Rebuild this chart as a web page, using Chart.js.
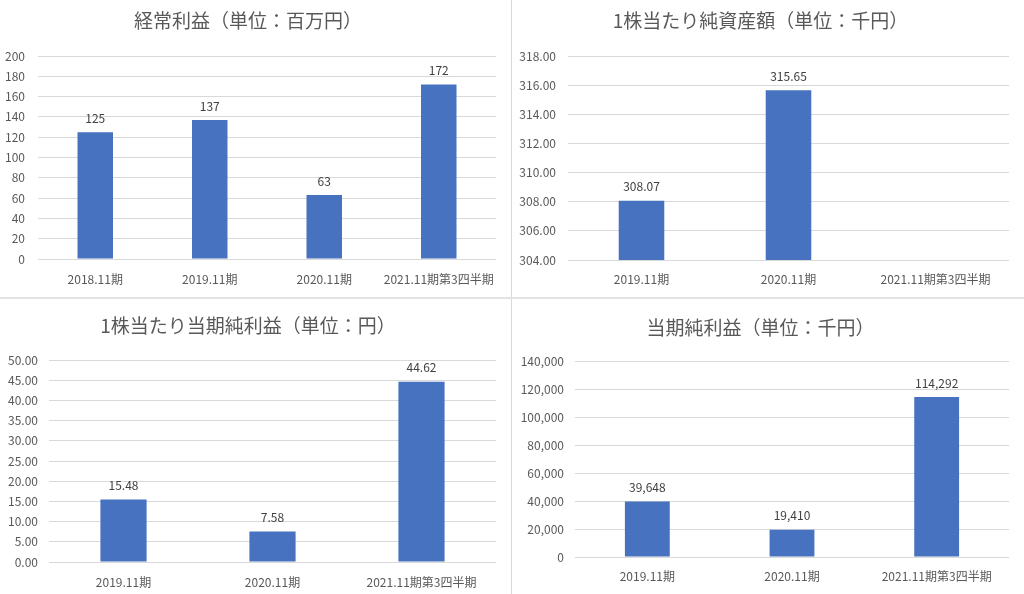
<!DOCTYPE html>
<html>
<head>
<meta charset="utf-8">
<script src="https://cdn.jsdelivr.net/npm/chart.js@4.4.0/dist/chart.umd.min.js"></script>
<style>
  html, body { margin: 0; padding: 0; background: #fff; }
  body { width: 1024px; height: 594px; position: relative; overflow: hidden; }
  .box { position: absolute; }
  .box canvas { display: block; }
  .vline { position: absolute; left: 511px; top: 0; width: 1px; height: 594px; background: #d9d9d9; }
  .hline { position: absolute; left: 0; top: 297px; width: 1024px; height: 2px; background: #e2e2e2; }
</style>
</head>
<body>
<div class="box" style="left:0;top:0;"><canvas id="c1" width="511" height="297"></canvas></div>
<div class="box" style="left:512px;top:0;"><canvas id="c2" width="512" height="297"></canvas></div>
<div class="box" style="left:0;top:299px;"><canvas id="c3" width="511" height="295"></canvas></div>
<div class="box" style="left:512px;top:299px;"><canvas id="c4" width="512" height="295"></canvas></div>
<div class="vline"></div>
<div class="hline"></div>

<script>
// data
const ordinaryLabels = ['2018.11期', '2019.11期', '2020.11期', '2021.11期第3四半期'];
const ordinaryValues = [125, 137, 63, 172];

const bpsLabels = ['2019.11期', '2020.11期', '2021.11期第3四半期'];
const bpsValues = [308.07, 315.65, null];

const epsLabels = ['2019.11期', '2020.11期', '2021.11期第3四半期'];
const epsValues = [15.48, 7.58, 44.62];

const netLabels = ['2019.11期', '2020.11期', '2021.11期第3四半期'];
const netValues = [39648, 19410, 114292];

const FONT = '"Noto Sans CJK JP", "Noto Sans", sans-serif';
const BAR_COLOR = '#4672C0';

const fmtInt = v => Math.round(v).toString();
const fmt2 = v => Number(v).toFixed(2);
const fmtComma = v => Number(v).toLocaleString('en-US');

// draws the value above each bar
const valueLabels = {
  id: 'valueLabels',
  afterDatasetsDraw(chart, args, opts) {
    const ctx = chart.ctx;
    ctx.save();
    ctx.font = '12px ' + FONT;
    ctx.fillStyle = '#404040';
    ctx.textAlign = 'center';
    ctx.textBaseline = 'middle';
    chart.getDatasetMeta(0).data.forEach((bar, i) => {
      const v = chart.data.datasets[0].data[i];
      if (v === null || v === undefined) return;
      ctx.fillText(opts.format(v), bar.x, bar.y - 14);
    });
    ctx.restore();
  }
};

function makeChart(id, title, labels, values, o) {
  const canvas = document.getElementById(id);
  const h = canvas.height;
  return new Chart(canvas, {
    type: 'bar',
    data: {
      labels: labels,
      datasets: [{
        data: values,
        backgroundColor: BAR_COLOR,
        borderWidth: 0,
        barPercentage: 0.31,
        categoryPercentage: 1
      }]
    },
    plugins: [valueLabels],
    options: {
      responsive: false,
      animation: false,
      layout: { padding: { left: 0, right: o.right, top: 0, bottom: 0 } },
      plugins: {
        legend: { display: false },
        tooltip: { enabled: false },
        title: {
          display: true,
          text: title,
          color: '#595959',
          font: { family: FONT, size: 19, weight: 'normal', lineHeight: 1.2 },
          padding: { top: o.titleY - 11.4, bottom: o.top - o.titleY - 11.4 }
        },
        valueLabels: { format: o.format }
      },
      scales: {
        x: {
          grid: { display: false },
          border: { display: false },
          ticks: {
            color: '#595959',
            font: { family: FONT, size: 12 },
            padding: o.xPad,
            maxRotation: 0,
            autoSkip: false
          },
          afterFit(scale) { scale.height = h - o.bottom; }
        },
        y: {
          min: o.min,
          max: o.max,
          grid: { color: '#d9d9d9', lineWidth: 1, drawTicks: false },
          border: { display: false },
          ticks: {
            stepSize: o.step,
            color: '#595959',
            font: { family: FONT, size: 12 },
            padding: o.yPad,
            callback: v => o.format(v)
          },
          afterFit(scale) { scale.width = o.left; }
        }
      }
    }
  });
}

makeChart('c1', '経常利益（単位：百万円）', ordinaryLabels, ordinaryValues, {
  min: 0, max: 200, step: 20, format: fmtInt,
  left: 38, right: 15, top: 56, bottom: 259, titleY: 21, xPad: 5, yPad: 13
});

makeChart('c2', '1株当たり純資産額（単位：千円）', bpsLabels, bpsValues, {
  min: 304, max: 318, step: 2, format: fmt2,
  left: 56, right: 15, top: 56, bottom: 260, titleY: 21, xPad: 4, yPad: 12
});

makeChart('c3', '1株当たり当期純利益（単位：円）', epsLabels, epsValues, {
  min: 0, max: 50, step: 5, format: fmt2,
  left: 49, right: 15, top: 61, bottom: 263, titleY: 27, xPad: 5, yPad: 11
});

makeChart('c4', '当期純利益（単位：千円）', netLabels, netValues, {
  min: 0, max: 140000, step: 20000, format: fmtComma,
  left: 63, right: 15, top: 62, bottom: 258, titleY: 29, xPad: 4, yPad: 11
});
</script>
</body>
</html>
